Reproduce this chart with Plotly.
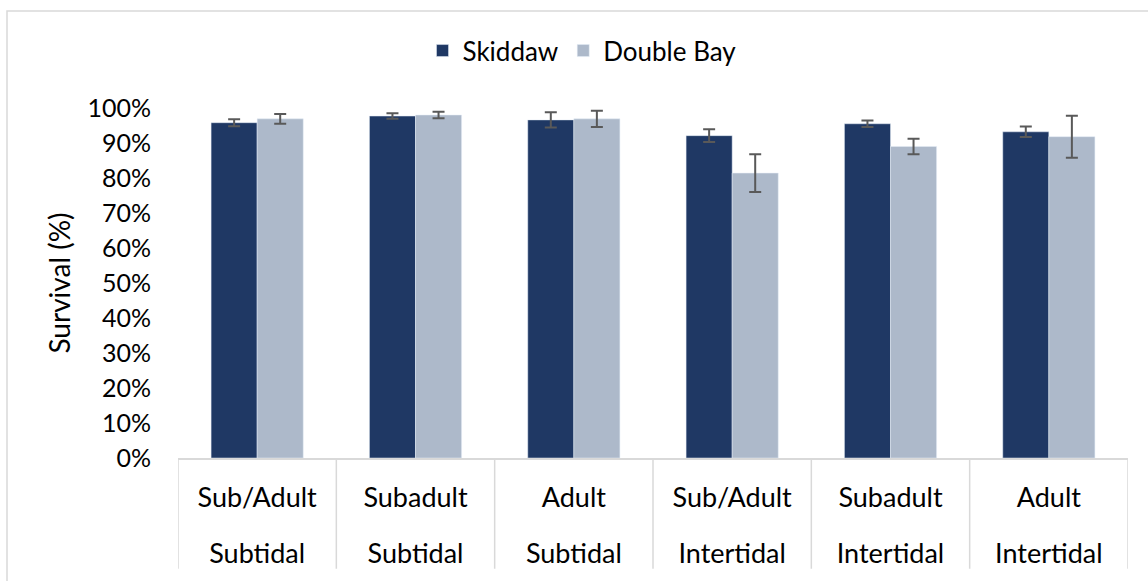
import plotly.graph_objects as go

row1 = ["Sub/Adult", "Subadult", "Adult", "Sub/Adult", "Subadult", "Adult"]
row2 = ["Subtidal", "Subtidal", "Subtidal", "Intertidal", "Intertidal", "Intertidal"]
positions = [0, 1, 2, 3, 4, 5]
skiddaw = [0.958, 0.977, 0.966, 0.921, 0.955, 0.932]
skiddaw_err = [0.010, 0.008, 0.022, 0.018, 0.009, 0.015]
double_bay = [0.969, 0.980, 0.969, 0.814, 0.890, 0.918]
double_bay_err = [0.014, 0.009, 0.023, 0.054, 0.022, 0.060]
y_ticks = [0, 0.1, 0.2, 0.3, 0.4, 0.5, 0.6, 0.7, 0.8, 0.9, 1.0]

FONT = "Lato"
W, H = 1148, 581
L, R, T, B = 178, 20, 108, 119
pw, ph = W - L - R, H - T - B

err_style = dict(type="data", thickness=2, width=6, color="#595959")

fig = go.Figure()
fig.add_trace(go.Bar(name="Skiddaw", x=positions, y=skiddaw, marker_color="#1F3864",
                     error_y=dict(array=skiddaw_err, **err_style)))
fig.add_trace(go.Bar(name="Double Bay", x=positions, y=double_bay, marker_color="#ADB9CA",
                     error_y=dict(array=double_bay_err, **err_style)))

shapes = []
for i in range(len(positions) + 1):
    shapes.append(dict(type="line", xref="x", yref="paper", x0=i - 0.5, x1=i - 0.5,
                       y0=0, y1=-(574 - 462) / ph, line=dict(color="#D9D9D9", width=1.5)))
shapes.append(dict(type="rect", xref="paper", yref="paper",
                   x0=(7 - L) / pw, x1=(1170 - L) / pw,
                   y0=-(620 - 462) / ph, y1=(462 - 10) / ph,
                   line=dict(color="#D9D9D9", width=1.5)))

fig.update_layout(
    width=W, height=H,
    margin=dict(l=L, r=R, t=T, b=B),
    paper_bgcolor="white", plot_bgcolor="white",
    barmode="group", bargap=0.418, bargroupgap=0,
    font=dict(family=FONT, size=25, color="#000000"),
    legend=dict(orientation="h", x=0.5 - (653 - 582) / pw, xanchor="center",
                y=(462 - 50) / ph, yanchor="middle", font=dict(size=26, family=FONT),
                itemwidth=30, traceorder="normal"),
    shapes=shapes,
    xaxis=dict(showline=True, linecolor="#D9D9D9", linewidth=1.5, ticks="",
               tickmode="array", tickvals=positions, ticktext=row1,
               tickfont=dict(size=27, family=FONT), showgrid=False, zeroline=False,
               range=[-0.5, 5.5], ticklabelstandoff=15),
    xaxis2=dict(overlaying="x", side="bottom", matches="x", showline=False, ticks="",
                tickmode="array", tickvals=positions, ticktext=row2,
                tickfont=dict(size=27, family=FONT), showgrid=False, zeroline=False,
                range=[-0.5, 5.5], ticklabelstandoff=77),
    yaxis=dict(range=[0, 1.0], tickvals=y_ticks, tickformat=".0%", showgrid=False,
               zeroline=False, showline=False, tickfont=dict(size=25, family=FONT),
               title=dict(text="Survival (%)", font=dict(size=28, family=FONT), standoff=8),
               ticks="", ticklabelstandoff=26),
)
fig.add_trace(go.Scatter(x=positions, y=[0] * len(positions), xaxis="x2", mode="markers",
                         marker=dict(opacity=0), showlegend=False, hoverinfo="skip"))

fig.write_html("out.html", config={"displayModeBar": False},
               post_script="document.body.style.margin='0';document.body.style.overflow='hidden';")
